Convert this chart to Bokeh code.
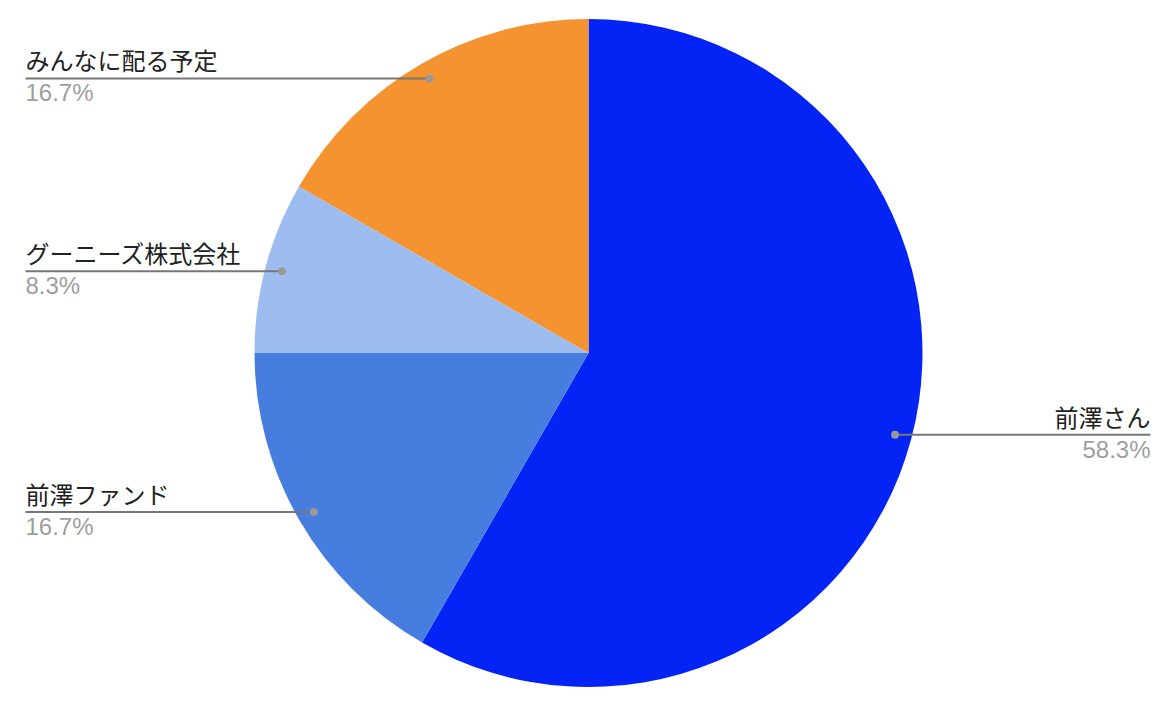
import math
from bokeh.plotting import figure
from bokeh.models import Range1d, ColumnDataSource
from bokeh.core.properties import value
from bokeh.embed import file_html
from bokeh.resources import INLINE

# ---- data ----
categories = ["前澤さん", "前澤ファンド", "グーニーズ株式会社", "みんなに配る予定"]
shares = [58.3, 16.7, 8.3, 16.7]
colors = ["#0324F5", "#467DDF", "#9DBCF0", "#F59331"]

# ---- layout (screen pixels; data y = H - screen y) ----
H = 718
cx, cy_s = 588, 352.5
R = 334
p = figure(width=1154, height=702, output_backend="svg", toolbar_location=None,
           x_range=Range1d(0, 1154), y_range=Range1d(16, 718),
           x_axis_type=None, y_axis_type=None, min_border=0,
           min_border_left=0, min_border_right=0, min_border_top=0, min_border_bottom=0)
p.outline_line_color = None
p.grid.visible = False
p.background_fill_color = "white"
p.border_fill_color = "white"

cy = H - cy_s
total = sum(shares)
starts, ends = [], []
c = 0.0
for s in shares:
    c0 = c / total
    c += s
    c1 = c / total
    starts.append(math.pi / 2 - 2 * math.pi * c1)
    ends.append(math.pi / 2 - 2 * math.pi * c0)

src = ColumnDataSource(dict(start=starts, end=ends, color=colors))
p.wedge(x=cx, y=cy, radius=R, start_angle="start", end_angle="end",
        fill_color="color", line_color=None, source=src)

# labels
dx, dy, lx0, lx1, lab_x, lab_align, pct = [], [], [], [], [], [], []
for i, s in enumerate(shares):
    mid = (starts[i] + ends[i]) / 2
    x = cx + 0.95 * R * math.cos(mid)
    y = cy + 0.95 * R * math.sin(mid)
    dx.append(x); dy.append(y)
    if math.cos(mid) >= 0:
        lx0.append(x); lx1.append(1150); lab_x.append(1150); lab_align.append("right")
    else:
        lx0.append(25); lx1.append(x); lab_x.append(25); lab_align.append("left")
    pct.append(f"{s / total * 100:.1f}%")

lsrc = ColumnDataSource(dict(x0=lx0, x1=lx1, y=dy, dx=dx, lx=lab_x, align=lab_align,
                             ly=[v + 1 for v in dy], py=[v - 1 for v in dy],
                             name=categories, pct=pct))
p.segment(x0="x0", y0="y", x1="x1", y1="y", line_color="#777777", line_width=2, source=lsrc)
p.scatter(x="dx", y="y", size=8, fill_color="#999999", line_color=None, source=lsrc)
p.text(x="lx", y="ly", text="name", text_align="align", text_baseline="bottom",
       text_font=value("Noto Sans CJK JP"), text_font_size="24px", text_color="#222222",
       source=lsrc)
p.text(x="lx", y="py", text="pct", text_align="align", text_baseline="top",
       text_font=value("Liberation Sans"), text_font_size="24px", text_color="#9E9E9E",
       source=lsrc)

open("out.html", "w").write(file_html(p, INLINE))
